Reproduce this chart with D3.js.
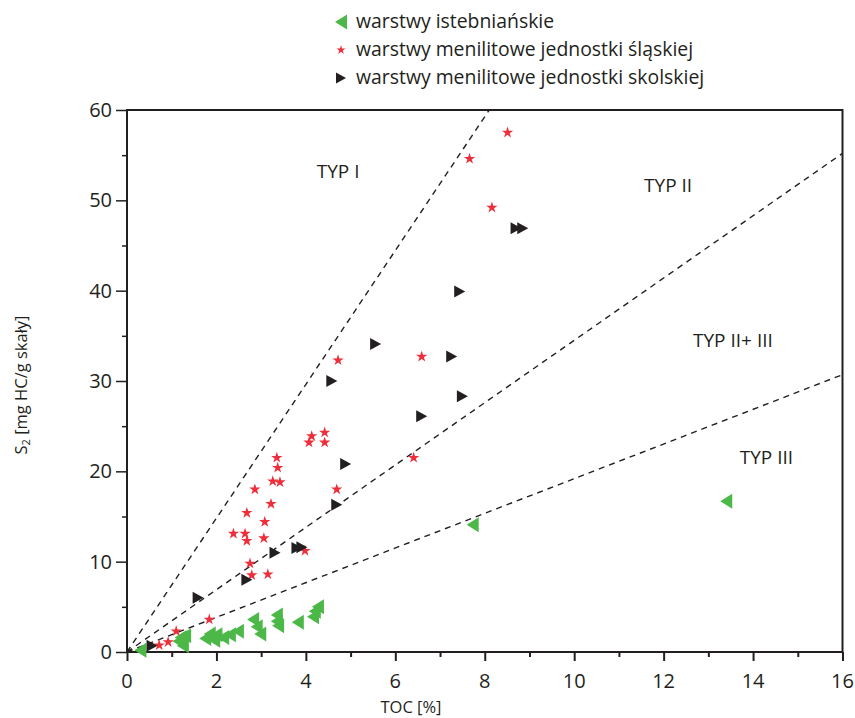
<!DOCTYPE html>
<html>
<head>
<meta charset="utf-8">
<script src="https://cdn.jsdelivr.net/npm/d3@7"></script>
<style>
  body { margin: 0; background: #fff; }
  svg { display: block; font-family: "Open Sans", "DejaVu Sans", sans-serif; }
</style>
</head>
<body>
<div id="chart"></div>
<script>
// warstwy istebniańskie (TOC %, S2 mg HC/g)
const istebnTOC = [0.3, 1.15, 1.25, 1.3, 1.2, 1.75, 1.85, 1.95, 2.0, 2.15, 2.3, 2.48, 2.82, 2.9, 2.98, 3.35, 3.38, 3.35, 3.82, 4.16, 4.27, 4.2, 7.73, 13.4];
const istebnS2  = [0.2, 1.2, 0.7, 1.8, 1.6, 1.5, 2.0, 1.3, 1.9, 1.6, 1.9, 2.3, 3.6, 2.8, 2.0, 4.1, 2.9, 3.4, 3.3, 3.9, 5.0, 4.5, 14.1, 16.7];

// warstwy menilitowe jednostki śląskiej
const slaskTOC = [8.51, 7.66, 8.16, 4.72, 6.59, 4.13, 4.42, 4.07, 4.42, 3.35, 3.37, 3.26, 3.42, 2.86, 4.69, 3.22, 2.68, 3.08, 2.38, 2.64, 2.68, 3.06, 3.98, 6.41, 2.75, 2.79, 3.15, 1.84, 1.1, 0.92, 0.72];
const slaskS2  = [57.5, 54.6, 49.2, 32.3, 32.7, 23.9, 24.3, 23.2, 23.2, 21.5, 20.4, 18.9, 18.8, 18.0, 18.0, 16.4, 15.4, 14.4, 13.1, 13.1, 12.3, 12.6, 11.2, 21.5, 9.8, 8.5, 8.6, 3.6, 2.3, 1.1, 0.75];

// warstwy menilitowe jednostki skolskiej
const skolTOC = [8.7, 8.85, 7.44, 5.56, 7.26, 4.58, 7.5, 6.59, 4.89, 4.69, 3.8, 3.91, 3.31, 2.68, 1.59, 0.56];
const skolS2  = [46.9, 46.9, 39.9, 34.1, 32.7, 30.0, 28.3, 26.1, 20.8, 16.3, 11.5, 11.6, 11.0, 8.0, 6.0, 0.7];

// kerogen type boundary lines (end points in data units)
const typeLineX0 = [0, 0, 0];
const typeLineY0 = [0, 0, 0];
const typeLineX1 = [8.1, 16, 16];
const typeLineY1 = [60, 55.2, 30.7];

const typeLabels = ["TYP I", "TYP II", "TYP II+ III", "TYP III"];
const typeLabelX = [4.72, 12.1, 13.55, 14.3];
const typeLabelY = [53.2, 51.7, 34.5, 21.5];

const legendLabels = ["warstwy istebniańskie", "warstwy menilitowe jednostki śląskiej", "warstwy menilitowe jednostki skolskiej"];

const xTicks = [0, 2, 4, 6, 8, 10, 12, 14, 16];
const yTicks = [0, 10, 20, 30, 40, 50, 60];

const width = 855, height = 718;
const margin = { top: 110, right: 12, bottom: 66, left: 127 };
const ink = "#231f20";
const green = "#4cb848", red = "#ee2e3a";

const svg = d3.select("#chart").append("svg")
  .attr("width", width)
  .attr("height", height);

const x = d3.scaleLinear().domain([0, 16]).range([margin.left, width - margin.right - 0.5]);
const y = d3.scaleLinear().domain([0, 60]).range([height - margin.bottom, margin.top]);

// marker shapes
const triRight = (w, h) => `M${-w / 2},${-h / 2}L${w / 2},0L${-w / 2},${h / 2}Z`;
const triLeft = (w, h) => `M${w / 2},${-h / 2}L${-w / 2},0L${w / 2},${h / 2}Z`;
const star = d3.symbol().type(d3.symbolStar).size(40)();

// frame
svg.append("rect")
  .attr("x", x(0)).attr("y", y(60))
  .attr("width", x(16) - x(0)).attr("height", y(0) - y(60))
  .attr("fill", "none").attr("stroke", ink).attr("stroke-width", 2);

// x axis
const xAxis = svg.append("g")
  .attr("transform", `translate(0,${y(0)})`)
  .call(d3.axisBottom(x).tickValues(d3.range(0, 16.5, 1)).tickSize(6).tickFormat(""));
xAxis.select(".domain").remove();
xAxis.selectAll(".tick line").attr("stroke", ink).attr("stroke-width", 2)
  .attr("y2", d => d % 2 === 0 ? 9 : 5);
svg.append("g").selectAll("text").data(xTicks).join("text")
  .attr("x", d => x(d)).attr("y", y(0) + 36)
  .attr("text-anchor", "middle")
  .attr("font-size", 20).attr("fill", ink)
  .text(d => d);

// y axis
const yAxis = svg.append("g")
  .attr("transform", `translate(${x(0)},0)`)
  .call(d3.axisLeft(y).tickValues(d3.range(0, 60.5, 5)).tickSize(10).tickFormat(""));
yAxis.select(".domain").remove();
yAxis.selectAll(".tick line").attr("stroke", ink).attr("stroke-width", 1.5)
  .attr("x2", d => d % 10 === 0 ? -11 : -5);
svg.append("g").selectAll("text").data(yTicks).join("text")
  .attr("x", x(0) - 15).attr("y", d => y(d))
  .attr("dy", "0.35em")
  .attr("text-anchor", "end")
  .attr("font-size", 20).attr("fill", ink)
  .text(d => d);

// axis titles
svg.append("text")
  .attr("x", 411).attr("y", height - 5)
  .attr("text-anchor", "middle")
  .attr("font-size", 16.5).attr("fill", ink)
  .text("TOC [%]");

const yTitle = svg.append("text")
  .attr("transform", `translate(27,${(y(0) + y(60)) / 2 + 4}) rotate(-90)`)
  .attr("text-anchor", "middle")
  .attr("font-size", 16.5).attr("fill", ink);
yTitle.append("tspan").text("S");
yTitle.append("tspan").attr("font-size", 11).attr("dy", 3).text("2");
yTitle.append("tspan").attr("dy", -3).text(" [mg HC/g skały]");

// type boundary lines
svg.append("g").selectAll("line").data(typeLineX0).join("line")
  .attr("x1", (d, i) => x(typeLineX0[i])).attr("y1", (d, i) => y(typeLineY0[i]))
  .attr("x2", (d, i) => x(typeLineX1[i])).attr("y2", (d, i) => y(typeLineY1[i]))
  .attr("stroke", ink).attr("stroke-width", 1.4)
  .attr("stroke-dasharray", "6,5");

svg.append("g").selectAll("text").data(typeLabels).join("text")
  .attr("x", (d, i) => x(typeLabelX[i])).attr("y", (d, i) => y(typeLabelY[i]))
  .attr("dy", "0.35em")
  .attr("text-anchor", "middle")
  .attr("font-size", 19).attr("fill", ink)
  .text(d => d);

// points
const plot = svg.append("g");
plot.append("g").selectAll("path").data(istebnTOC).join("path")
  .attr("transform", (d, i) => `translate(${x(d)},${y(istebnS2[i])})`)
  .attr("d", triLeft(12, 15)).attr("fill", green);
plot.append("g").selectAll("path").data(slaskTOC).join("path")
  .attr("transform", (d, i) => `translate(${x(d)},${y(slaskS2[i])})`)
  .attr("d", star).attr("fill", red);
plot.append("g").selectAll("path").data(skolTOC).join("path")
  .attr("transform", (d, i) => `translate(${x(d)},${y(skolS2[i])})`)
  .attr("d", triRight(11, 12)).attr("fill", ink);

// legend
const legend = svg.append("g").attr("transform", "translate(341,22)");
const legendShapes = [triLeft(12, 15), d3.symbol().type(d3.symbolStar).size(26)(), triRight(10, 11)];
const legendColors = [green, red, ink];
const legendItem = legend.selectAll("g").data(legendLabels).join("g")
  .attr("transform", (d, i) => `translate(0,${i * 28})`);
legendItem.append("path")
  .attr("d", (d, i) => legendShapes[i])
  .attr("fill", (d, i) => legendColors[i]);
legendItem.append("text")
  .attr("x", 15).attr("dy", "0.32em")
  .attr("font-size", 19.4).attr("fill", ink)
  .text(d => d);
</script>
</body>
</html>
